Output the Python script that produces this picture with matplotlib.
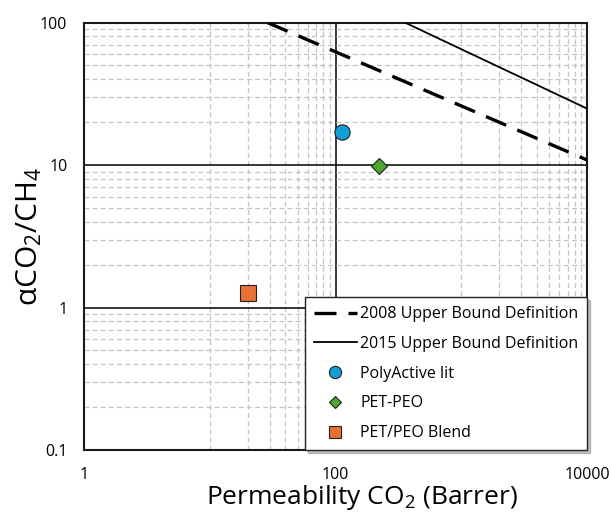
import matplotlib
matplotlib.use("Agg")
import matplotlib.pyplot as plt
from matplotlib.ticker import LogLocator, NullFormatter

plt.rcParams['font.family'] = ['Open Sans', 'DejaVu Sans']
plt.rcParams['mathtext.fontset'] = 'custom'
plt.rcParams['mathtext.rm'] = 'Open Sans'
plt.rcParams['mathtext.it'] = 'Open Sans'

# Upper bound lines (endpoints)
bound_2008_P = [28.7, 10000]
bound_2008_alpha = [100, 10.85]
bound_2015_P = [356, 10000]
bound_2015_alpha = [100, 24.9]

# Data points
polyactive_P = [113.6]
polyactive_alpha = [17.1]
petpeo_P = [223]
petpeo_alpha = [9.9]
blend_P = [20]
blend_alpha = [1.26]

x_major = [1, 100, 10000]
x_minor = [10, 20, 30, 40, 50, 60, 70, 80, 90,
           1000, 2000, 3000, 4000, 5000, 6000, 7000, 8000, 9000]
y_major = [0.1, 1, 10, 100]
y_major_labels = ['0.1', '1', '10', '100']

fig = plt.figure(figsize=(6.11, 5.13), dpi=100)
ax = fig.add_axes([0.1375, 0.1228, 0.8232, 0.8333])
ax.set_xscale('log')
ax.set_yscale('log')
ax.set_xlim(1, 10000)
ax.set_ylim(0.1, 100)

ax.set_xticks(x_major)
ax.set_xticklabels([str(v) for v in x_major])
ax.set_xticks(x_minor, minor=True)
ax.set_xticklabels([], minor=True)
ax.set_yticks(y_major)
ax.set_yticklabels(y_major_labels)
ax.yaxis.set_minor_locator(LogLocator(base=10, subs=range(2, 10)))
ax.yaxis.set_minor_formatter(NullFormatter())

ax.grid(True, which='major', color='black', linewidth=1.1, linestyle='-', zorder=1)
ax.grid(True, which='minor', color='#c4c4c4', linewidth=0.9, linestyle=(0, (4, 2.5)), zorder=0)
ax.set_axisbelow(True)
ax.tick_params(which='both', length=0)
ax.tick_params(axis='y', pad=12, labelsize=11.5)
ax.tick_params(axis='x', pad=12.5, labelsize=11.5)
for s in ax.spines.values():
    s.set_linewidth(1.5)
    s.set_color('#1a1a1a')

ax.plot(bound_2008_P, bound_2008_alpha, color='black', linewidth=2.4,
        linestyle=(0, (6.6, 3.6)), label='2008 Upper Bound Definition', zorder=3)
ax.plot(bound_2015_P, bound_2015_alpha, color='black', linewidth=1.3,
        linestyle='-', label='2015 Upper Bound Definition', zorder=3)
ax.plot(polyactive_P, polyactive_alpha, linestyle='none', marker='o', markersize=11,
        markerfacecolor='#0F9ED5', markeredgecolor='#222222', markeredgewidth=0.8,
        label='PolyActive lit', zorder=4)
ax.plot(petpeo_P, petpeo_alpha, linestyle='none', marker='D', markersize=8,
        markerfacecolor='#4EA72E', markeredgecolor='#222222', markeredgewidth=0.8,
        label='PET-PEO', zorder=4)
ax.plot(blend_P, blend_alpha, linestyle='none', marker='s', markersize=11,
        markerfacecolor='#E97132', markeredgecolor='#222222', markeredgewidth=0.8,
        label='PET/PEO Blend', zorder=4)

leg = ax.legend(loc='lower right', borderaxespad=0, fontsize=11.5, frameon=True,
                fancybox=False, shadow={'color': '#999999', 'alpha': 0.6},
                edgecolor='#222222',
                handlelength=2.7, handletextpad=0.2, labelspacing=0.86,
                borderpad=0.55, markerscale=0.8)
leg.get_frame().set_linewidth(1.0)
leg.set_zorder(5)

fig.text(362 / 611, 1 - 504 / 513, 'Permeability CO$_2$ (Barrer)', fontsize=19,
         ha='center', va='baseline')
fig.text(29 / 611, 1 - 236 / 513, 'αCO$_2$/CH$_4$', fontsize=21.5,
         ha='center', va='center', rotation=90)

fig.savefig('out.png', dpi=100)
